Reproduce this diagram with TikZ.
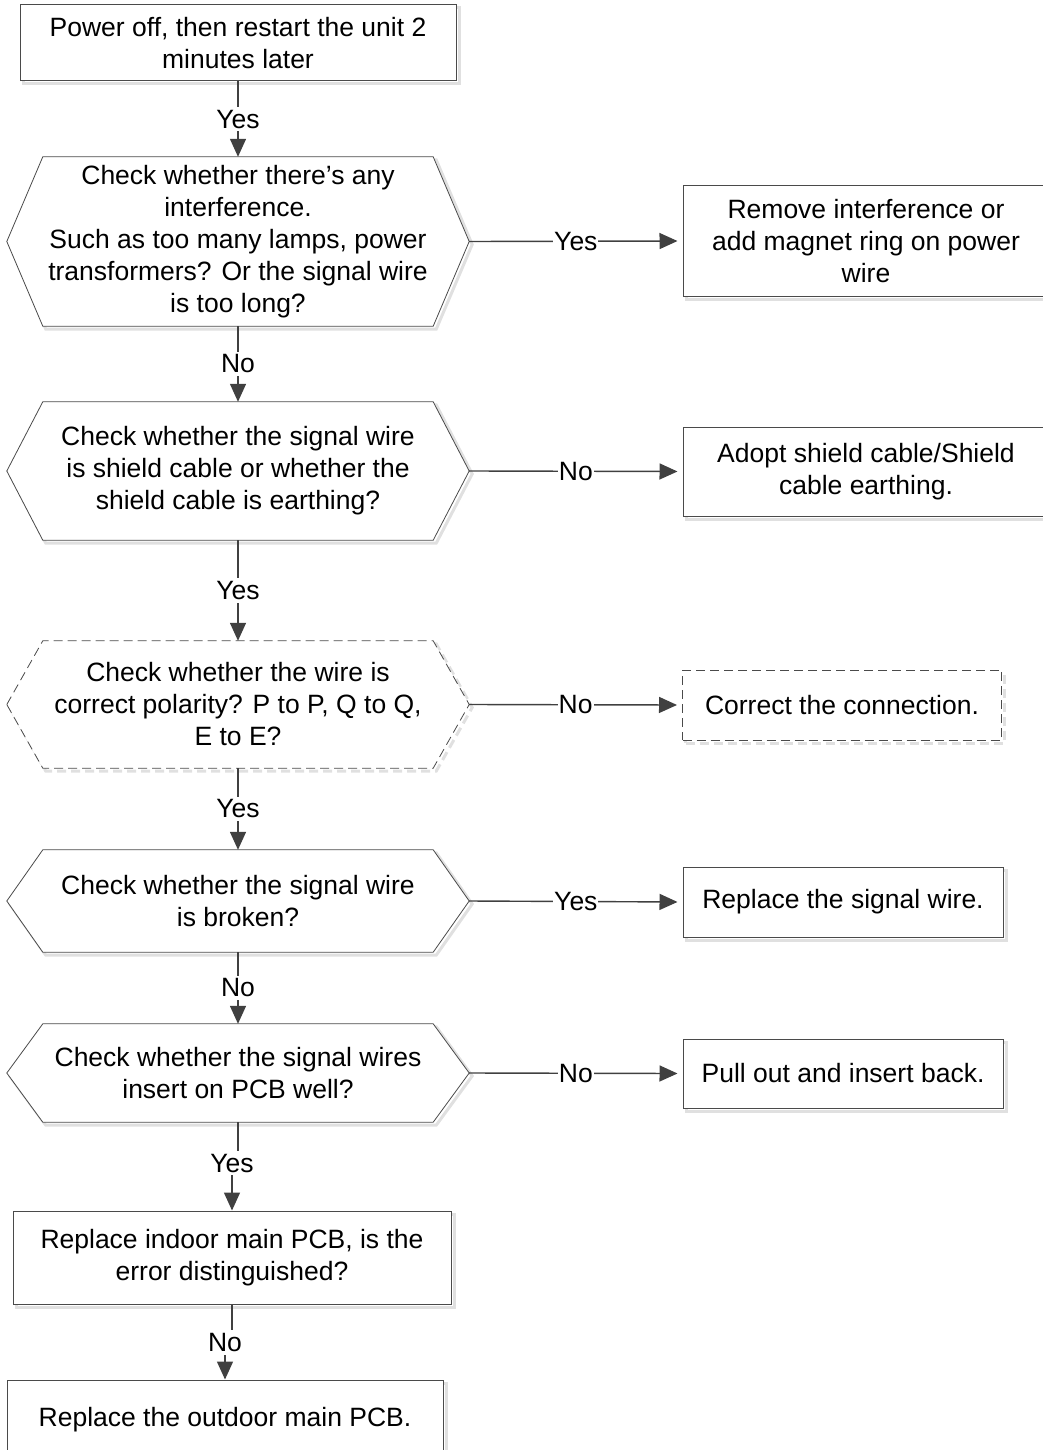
\documentclass[tikz,border=0pt]{standalone}
\usepackage{fontspec}
\setmainfont{Liberation Sans}
\usetikzlibrary{arrows.meta,shadows,backgrounds}
\definecolor{edge}{HTML}{4A4A4A}
\definecolor{conncol}{HTML}{404040}
\definecolor{shade}{HTML}{E0E0E0}
\tikzset{
  txt/.style={font=\fontsize{26.5}{32}\selectfont, align=center, inner sep=0pt},
  shadowed/.style={drop shadow={shadow xshift=3pt, shadow yshift=-3pt, fill=none, draw=shade, line width=3pt, opacity=1}},
  box/.style={txt, rectangle, draw=edge, line width=1pt, fill=white, shadowed},
  dbox/.style={box, dash pattern=on 9pt off 5pt, drop shadow={shadow xshift=3pt, shadow yshift=-3pt, fill=none, draw=shade, line width=3pt, opacity=1, dash pattern=on 9pt off 5pt}},
  hexnode/.style={txt, rectangle, draw=none},
  hexline/.style={draw=edge, line width=0.8pt, fill=white, shadowed},
  dhexline/.style={draw=edge, line width=0.8pt, fill=white, dash pattern=on 9pt off 5pt,
     drop shadow={shadow xshift=3pt, shadow yshift=-3pt, fill=none, draw=shade, line width=3pt, opacity=1, dash pattern=on 9pt off 5pt}},
  conn/.style={draw=conncol, line width=1.4pt, -{Triangle[length=18pt,width=16pt]}},
  hconn/.style={conn, shorten >=5pt},
  lbl/.style={txt, fill=white, inner xsep=1pt, inner ysep=3pt}
}
\newcommand\hexpath[2]{%
  \path[#2] (#1.west) -- ([xshift=36pt]#1.north west) -- ([xshift=-36pt]#1.north east)
    -- (#1.east) -- ([xshift=-36pt]#1.south east) -- ([xshift=36pt]#1.south west) -- cycle;}
\begin{document}
\begin{tikzpicture}[x=1pt,y=-1pt]
\useasboundingbox (0,0) rectangle (1043,1450);

\node[box, minimum width=436pt, minimum height=76pt] (b1) at (238,43) {Power off, then restart the unit 2\\minutes later};

\node[hexnode, minimum width=462pt, minimum height=169pt] (h1) at (238,241.5) {Check whether there’s any\\interference.\\Such as too many lamps, power\\transformers? Or the signal wire\\is too long?};
\node[box, minimum width=366pt, minimum height=110pt] (r1) at (866,241) {Remove interference or\\add magnet ring on power\\wire};

\node[hexnode, minimum width=462pt, minimum height=138pt] (h2) at (238,471) {Check whether the signal wire\\is shield cable or whether the\\shield cable is earthing?};
\node[box, minimum width=366pt, minimum height=89pt] (r2) at (866,471.5) {Adopt shield cable/Shield\\cable earthing.};

\node[hexnode, minimum width=462pt, minimum height=127pt] (h3) at (238,704.5) {Check whether the wire is\\correct polarity? P to P, Q to Q,\\E to E?};
\node[dbox, minimum width=319pt, minimum height=70pt] (r3) at (842,705) {Correct the connection.};

\node[hexnode, minimum width=462pt, minimum height=102pt] (h4) at (238,901) {Check whether the signal wire\\is broken?};
\node[box, minimum width=320pt, minimum height=70pt] (r4) at (843,902) {Replace the signal wire.};

\node[hexnode, minimum width=462pt, minimum height=98pt] (h5) at (238,1073) {Check whether the signal wires\\insert on PCB well?};
\node[box, minimum width=320pt, minimum height=69pt] (r5) at (843,1073.5) {Pull out and insert back.};

\node[box, minimum width=438pt, minimum height=93pt] (b6) at (232,1257.5) {Replace indoor main PCB, is the\\error distinguished?};
\node[box, minimum width=436pt, minimum height=80pt] (b7) at (225,1420) {Replace the outdoor main PCB.};

\begin{pgfonlayer}{background}
  \hexpath{h1}{hexline}
  \hexpath{h2}{hexline}
  \hexpath{h3}{dhexline}
  \hexpath{h4}{hexline}
  \hexpath{h5}{hexline}
\end{pgfonlayer}

\draw[conn] (b1) -- node[lbl]{Yes} (h1);
\draw[hconn] (h1.east) -- node[lbl]{Yes} (r1.west);
\draw[conn] (h1) -- node[lbl]{No} (h2);
\draw[hconn] (h2.east) -- node[lbl]{No} (r2.west);
\draw[conn] (h2) -- node[lbl]{Yes} (h3);
\draw[hconn] (h3.east) -- node[lbl]{No} (r3.west);
\draw[conn] (h3) -- node[lbl]{Yes} (h4);
\draw[hconn] (h4.east) -- node[lbl]{Yes} (r4.west);
\draw[conn] (h4) -- node[lbl]{No} (h5);
\draw[hconn] (h5.east) -- node[lbl]{No} (r5.west);
\draw[conn] (h5.south) -- ([yshift=-41pt]h5.south) -| node[lbl, pos=0.5]{Yes} (b6.north);
\draw[conn] (b6.south) -- ([yshift=-38pt]b6.south) -| node[lbl, pos=0.5]{No} (b7.north);
\end{tikzpicture}
\end{document}
